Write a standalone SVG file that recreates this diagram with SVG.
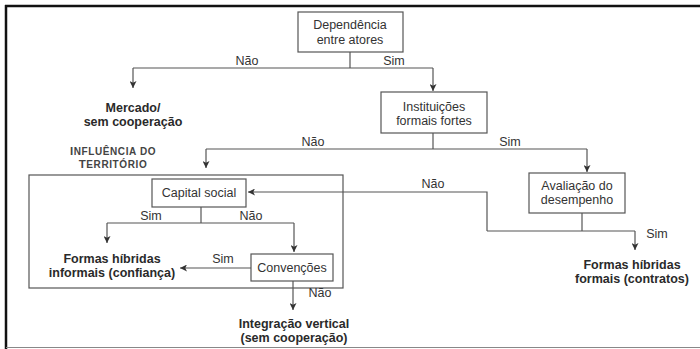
<svg xmlns="http://www.w3.org/2000/svg" width="700" height="349" viewBox="0 0 700 349">
<defs>
<marker id="ah" viewBox="0 0 10 10" refX="10" refY="5" markerWidth="8" markerHeight="7" markerUnits="userSpaceOnUse" orient="auto">
<path d="M0,0 L10,5 L0,10 L2.5,5 z" fill="#333"/>
</marker>
</defs>
<style>
text{font-family:"Liberation Sans","Noto Sans",Arial,sans-serif;font-size:12.5px;fill:#333;text-anchor:middle}
.b{font-weight:bold;fill:#2a2a2a}
.box{fill:#fff;stroke:#555;stroke-width:1.2}
.ln{fill:none;stroke:#555;stroke-width:1.2}
.ar{fill:none;stroke:#555;stroke-width:1.2;marker-end:url(#ah)}
.sc{font-size:10px;font-weight:bold;fill:#444;letter-spacing:0.6px}
</style>
<rect width="700" height="349" fill="#fff"/>
<g id="frame">
<line x1="6" y1="5" x2="6" y2="349" stroke="#111" stroke-width="2.5"/>
<line x1="5" y1="6" x2="700" y2="6" stroke="#111" stroke-width="2.5"/>
<line x1="6" y1="347.5" x2="700" y2="347.5" stroke="#888" stroke-width="1.2"/>
</g>
<g id="influencia">
<rect class="box" x="29" y="175" width="314" height="113"/>
<text class="sc" x="113" y="155"><tspan font-size="11.5">I</tspan>NFLUÊNCIA DO</text>
<text class="sc" x="113" y="168"><tspan font-size="11.5">T</tspan>ERRITÓRIO</text>
</g>
<g id="connectors">
<path class="ln" d="M350,52 V68"/>
<path class="ln" d="M133,68 H433"/>
<path class="ar" d="M133,68 V88"/>
<path class="ar" d="M433,68 V91"/>
<path class="ln" d="M433,133 V149"/>
<path class="ln" d="M206,149 H587"/>
<path class="ar" d="M206,149 V168"/>
<path class="ar" d="M587,149 V172"/>
<path class="ln" d="M201,207 V223"/>
<path class="ln" d="M107,223 H294"/>
<path class="ar" d="M107,223 V243"/>
<path class="ar" d="M294,223 V252"/>
<path class="ar" d="M251,268 H180"/>
<path class="ar" d="M293,281 V310"/>
<path class="ln" d="M582,213 V231"/>
<path class="ar" d="M635,231 V250"/>
<path class="ln" d="M487,231 H635"/>
<path class="ar" d="M487,231 V192 H248"/>
<text x="247" y="65">Não</text>
<text x="394" y="65">Sim</text>
<text x="313" y="146">Não</text>
<text x="510" y="146">Sim</text>
<text x="433" y="188">Não</text>
<text x="657" y="238">Sim</text>
<text x="151" y="220">Sim</text>
<text x="251" y="220">Não</text>
<text x="223" y="263">Sim</text>
<text x="320" y="297">Não</text>
</g>
<g id="dependencia">
<rect class="box" x="298" y="12" width="105" height="40"/>
<text x="350" y="29">Dependência</text>
<text x="350" y="44">entre atores</text>
</g>
<g id="mercado">
<text class="b" x="133" y="111.5">Mercado/</text>
<text class="b" x="133" y="125.5">sem cooperação</text>
</g>
<g id="instituicoes">
<rect class="box" x="381" y="92" width="106" height="41"/>
<text x="434" y="110.5">Instituições</text>
<text x="434" y="124.5">formais fortes</text>
</g>
<g id="avaliacao">
<rect class="box" x="529" y="173" width="96" height="40"/>
<text x="577" y="189.5">Avaliação do</text>
<text x="577" y="204">desempenho</text>
</g>
<g id="capital">
<rect class="box" x="152" y="179" width="94" height="28"/>
<text x="199" y="197">Capital social</text>
</g>
<g id="convencoes">
<rect class="box" x="251" y="254" width="82" height="27"/>
<text x="292" y="272">Convenções</text>
</g>
<g id="informais">
<text class="b" x="112" y="262.5">Formas híbridas</text>
<text class="b" x="112" y="276.5">informais (confiança)</text>
</g>
<g id="contratos">
<text class="b" x="632" y="268.5">Formas híbridas</text>
<text class="b" x="632" y="282.5">formais (contratos)</text>
</g>
<g id="integracao">
<text class="b" x="294" y="327.5">Integração vertical</text>
<text class="b" x="294" y="341.5">(sem cooperação)</text>
</g>
</svg>
